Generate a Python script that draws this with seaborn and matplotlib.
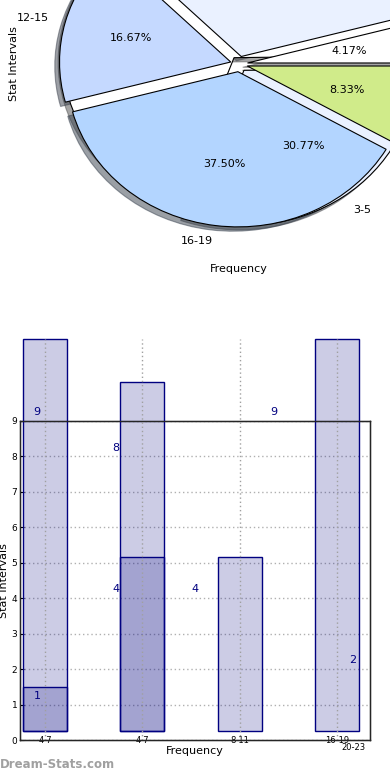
import numpy as np
import matplotlib
matplotlib.use('Agg')
import matplotlib.pyplot as plt
import seaborn as sns

sns.set_style("white")
plt.rcParams['font.family'] = ['DejaVu Sans']
plt.rcParams['text.color'] = 'k'
plt.rcParams['axes.labelcolor'] = 'k'
plt.rcParams['xtick.color'] = 'k'
plt.rcParams['ytick.color'] = 'k'

# ---- pie data (counter-clockwise from 0 deg)
pie_vals = [1, 8, 4, 9, 2]
pie_labels = ['', '', '12-15', '16-19', '']
pie_colors = ['#ffffff', '#eaf1ff', '#c5d9ff', '#b3d5ff', '#d0eb8a']
pie_show_pct = [True, False, True, True, True]
# second (background) pie
pie2_vals = [4, 9]
pie2_labels = ['3-5', '']
pie2_colors = ['#eaf1ff', '#ffffff']
pie2_show_pct = [True, False]

# ---- bar data
bar_pos = [0, 1, 2, 3]
bar_ticklabels = ['4-7', '4-7', '8-11', '16-19']
light_vals = [9, 8, 4, 9]
dark_pos = [0, 1]
dark_vals = [1, 4]
# value labels
lab_pos = [0, 0, 1, 1, 2, 3, 4]
lab_vals = [9, 1, 8, 4, 4, 9, 2]

navy = '#000080'
fill = (0, 0, 0.5, 0.2)

fig = plt.figure(figsize=(3.9, 7.8), dpi=100)

# ==== pie
ax = fig.add_axes([25/390, 1-258/780, 428/390, 388/780])
_, _, pct2 = ax.pie(pie2_vals, labels=pie2_labels, colors=pie2_colors, startangle=-110,
                    explode=[0.05]*len(pie2_vals), autopct='%.2f%%', shadow=True,
                    wedgeprops=dict(edgecolor='k', lw=0.8), textprops=dict(fontsize=8))
_, _, pct1 = ax.pie(pie_vals, labels=pie_labels, colors=pie_colors, startangle=0,
                    explode=[0.05]*len(pie_vals), autopct='%.2f%%', shadow=True,
                    wedgeprops=dict(edgecolor='k', lw=0.8), textprops=dict(fontsize=8))
for t, show in zip(pct2, pie2_show_pct):
    t.set_visible(show)
for t, show in zip(pct1, pie_show_pct):
    t.set_visible(show)
ax.set_aspect('auto')
ax.set_xlim(-1.25, 1.25)
ax.set_ylim(-1.25, 1.25)
ax.set_xlabel('Frequency', fontsize=8)
ax.set_ylabel('Stat Intervals', fontsize=8)

# ==== bars
rect = [20/390, 40/780, 350/390, 319/780]
ax = fig.add_axes(rect)
ax.set_ylim(0, 9)
ax.set_yticks(range(10))
ax.yaxis.grid(True, ls=(0, (1, 2)), color='#b0b0b0', lw=1)
ax.tick_params(axis='y', direction='in', length=3, labelsize=6.5, pad=2, right=True)
ax.tick_params(axis='x', direction='in', length=2, labelsize=6, pad=-3)
for s in ax.spines.values():
    s.set_linewidth(1)
    s.set_color('k')
ax.set_ylabel('Stat Intervals', fontsize=8, labelpad=2)
ax.set_xlabel('Frequency', fontsize=8, labelpad=1)

axb = ax.twinx()
sns.barplot(x=bar_pos, y=light_vals, native_scale=True, width=0.45, errorbar=None,
            saturation=1, facecolor=fill, edgecolor=navy, linewidth=1,
            clip_on=False, ax=axb)
sns.barplot(x=dark_pos, y=dark_vals, native_scale=True, width=0.45, errorbar=None,
            saturation=1, facecolor=fill, edgecolor=navy, linewidth=1,
            clip_on=False, ax=axb)
for p in axb.patches:
    p.set_facecolor(fill)
    p.set_edgecolor(navy)
    p.set_clip_on(False)
axb.set_ylim(-0.206, 7.11)
axb.vlines(bar_pos, -0.206, max(light_vals), colors='#a0a0a0', lw=1,
           linestyles=(0, (1, 2)), clip_on=False)
axb.set_yticks([])
axb.set_ylabel('')
axb.set_xlim(-0.257, 3.34)
ax.set_xlim(-0.257, 3.34)
ax.set_xticks(bar_pos)
ax.set_xticklabels(bar_ticklabels)

axl = fig.add_axes(rect)
axl.set_xlim(-0.215, 4.215)
axl.set_ylim(0, 9)
axl.axis('off')
for x, v in zip(lab_pos, lab_vals):
    axl.text(x, v + 0.25, str(v), color=navy, fontsize=8, ha='center', va='center')
axl.text(4, -0.2, '20-23', fontsize=6, ha='center', va='center')

fig.text(0.0, 9/780, 'Dream-Stats.com', fontsize=8.5, fontweight='bold',
         color='#a0a0a0', ha='left', va='bottom')

fig.savefig('out.png', dpi=100)
